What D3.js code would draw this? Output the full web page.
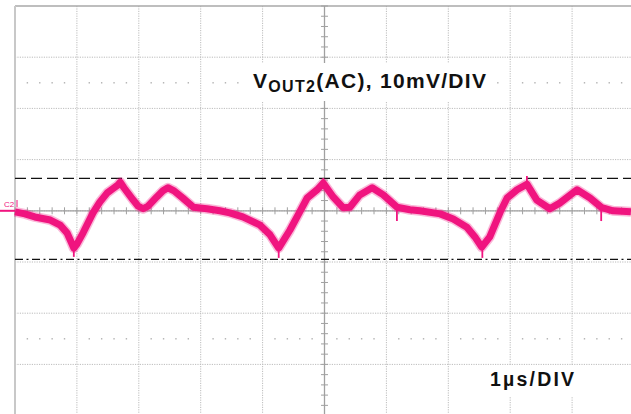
<!DOCTYPE html>
<html>
<head>
<meta charset="utf-8">
<script src="https://cdn.jsdelivr.net/npm/d3@7"></script>
<style>
  body { margin: 0; background: #fff; }
  text { font-family: "Liberation Sans", Arial, sans-serif; }
</style>
</head>
<body>
<div id="scope"></div>
<script>
// time in µs (1 µs/DIV), voltage in mV (10 mV/DIV)
const timeUs = [0.00, 0.16, 0.32, 0.57, 0.73, 0.84, 0.90, 0.95, 1.00, 1.10, 1.26, 1.37, 1.49, 1.58, 1.66, 1.70,
  1.76, 1.91, 1.99, 2.07, 2.15, 2.29, 2.39, 2.47, 2.57, 2.71, 2.88, 3.10, 3.31,
  3.47, 3.68, 3.96, 4.12, 4.26, 4.44, 4.60, 4.72, 4.88, 4.98, 5.14, 5.30, 5.41, 5.57, 5.77, 5.95, 6.17, 6.38, 6.54,
  6.87, 7.08, 7.30, 7.43, 7.54, 7.67, 7.84, 7.95, 8.11, 8.27, 8.43, 8.64, 8.80, 9.08, 9.29, 9.48, 9.66, 9.95];
const voutMv = [-0.2, -0.6, -1.2, -1.8, -2.8, -4.3, -5.9, -7.3, -6.5, -4.3, -0.4, 1.7, 3.5, 4.3, 5.0, 5.6,
  4.5, 2.1, 0.9, 0.4, 0.9, 2.7, 3.9, 4.5, 3.9, 2.5, 0.7, 0.4, 0.0,
  -0.4, -1.2, -2.8, -4.7, -7.3, -3.8, -0.2, 2.5, 4.1, 5.4, 2.7, 0.6, 0.7, 3.1, 4.5, 3.1, 0.7, 0.2, 0.0,
  -0.6, -1.6, -3.2, -5.1, -7.1, -5.1, -0.2, 2.5, 4.1, 5.2, 2.1, 0.4, 1.5, 4.1, 2.5, 0.6, 0.0, -0.2];

// short switching spikes: time, from, to (mV)
const spikeUs = [0.95, 1.70, 4.26, 4.98, 6.17, 7.55, 8.27, 9.47];
const spikeFrom = [-7.0, 5.0, -7.0, 5.0, 0.5, -7.0, 5.0, 0.5];
const spikeTo = [-9.0, 6.2, -9.2, 6.4, -2.0, -9.2, 6.8, -2.0];

// cursors
const cursorHiMv = 6.35;
const cursorLoMv = -9.5;

const xDivs = d3.range(0, 11);
const yDivs = d3.range(-40, 41, 10);
const xMinor = d3.range(0, 10.01, 0.2);
const yMinor = d3.range(-40, 40.01, 2);

const labelVout = ["V", "OUT2", "(AC), 10mV/DIV"];
const labelTime = "1\u00b5s/DIV";

const width = 631, height = 414;

const svg = d3.select("#scope").append("svg")
  .attr("width", width)
  .attr("height", height);

const x = d3.scaleLinear().domain([0, 10]).range([15, 634]);
const y = d3.scaleLinear().domain([-40, 40]).range([415.6, 6]);

const grid = svg.append("g");

// dotted division grid
grid.selectAll(".vgrid")
  .data(xDivs.slice(1))
  .enter().append("line")
  .attr("x1", d => x(d)).attr("x2", d => x(d))
  .attr("y1", y(40)).attr("y2", y(-40))
  .style("stroke", "#bcbcbc")
  .style("stroke-width", 1)
  .style("stroke-dasharray", "1.2,1.2");

grid.selectAll(".hgrid")
  .data(yDivs.slice(1, -1))
  .enter().append("line")
  .attr("x1", x(0)).attr("x2", width)
  .attr("y1", d => y(d)).attr("y2", d => y(d))
  .style("stroke", "#bcbcbc")
  .style("stroke-width", 1)
  .style("stroke-dasharray", "1.2,1.2");

// sparse dot rows
[25, -25].forEach(v => {
  grid.selectAll(null)
    .data(xMinor.filter(t => Math.abs(t - Math.round(t)) > 0.01))
    .enter().append("rect")
    .attr("x", d => x(d) - 0.7).attr("y", y(v) - 0.7)
    .attr("width", 1.4).attr("height", 1.4)
    .style("fill", "#b0b0b0");
});

// frame
grid.append("line")
  .attr("x1", x(0)).attr("x2", width)
  .attr("y1", y(40)).attr("y2", y(40))
  .style("stroke", "#a8a8a8").style("stroke-width", 1.5);
grid.append("line")
  .attr("x1", x(0)).attr("x2", x(0))
  .attr("y1", y(40)).attr("y2", height)
  .style("stroke", "#c8c8c8").style("stroke-width", 2);

// center axes with minor ticks
grid.append("line")
  .attr("x1", x(0)).attr("x2", width)
  .attr("y1", y(0)).attr("y2", y(0))
  .style("stroke", "#a0a0a0").style("stroke-width", 1.3);
grid.append("line")
  .attr("x1", x(5)).attr("x2", x(5))
  .attr("y1", y(40)).attr("y2", height)
  .style("stroke", "#a0a0a0").style("stroke-width", 1.3);

grid.selectAll(".xtick")
  .data(xMinor)
  .enter().append("line")
  .attr("x1", d => x(d)).attr("x2", d => x(d))
  .attr("y1", y(0) - 3.5).attr("y2", y(0) + 3.5)
  .style("stroke", "#a0a0a0").style("stroke-width", 1);

grid.selectAll(".ytick")
  .data(yMinor)
  .enter().append("line")
  .attr("x1", x(5) - 3.5).attr("x2", x(5) + 3.5)
  .attr("y1", d => y(d)).attr("y2", d => y(d))
  .style("stroke", "#a0a0a0").style("stroke-width", 1);

// label boxes
svg.append("rect").attr("x", 243).attr("y", 63).attr("width", 252).attr("height", 38).style("fill", "#fff");
svg.append("rect").attr("x", 487).attr("y", 366).attr("width", 121).attr("height", 31).style("fill", "#fff");

// cursors
svg.append("line")
  .attr("x1", x(0)).attr("x2", width)
  .attr("y1", y(cursorHiMv)).attr("y2", y(cursorHiMv))
  .style("stroke", "#111").style("stroke-width", 1.3)
  .style("stroke-dasharray", "11,5");
svg.append("line")
  .attr("x1", x(0)).attr("x2", width)
  .attr("y1", y(cursorLoMv)).attr("y2", y(cursorLoMv))
  .style("stroke", "#111").style("stroke-width", 1.3)
  .style("stroke-dasharray", "8,3.5,2,3.5");

// trace
const trace = timeUs.map((t, i) => [t, voutMv[i]]);
const line = d3.line()
  .x(d => x(d[0]))
  .y(d => y(d[1]));

const pink = "#f0147f";

svg.append("path")
  .datum(trace)
  .attr("d", line)
  .style("fill", "none")
  .style("stroke", pink)
  .style("stroke-opacity", 0.3)
  .style("stroke-width", 10)
  .style("stroke-linejoin", "round");
svg.append("path")
  .datum(trace)
  .attr("d", line)
  .style("fill", "none")
  .style("stroke", pink)
  .style("stroke-width", 7)
  .style("stroke-linejoin", "round");

svg.selectAll(".spike")
  .data(spikeUs)
  .enter().append("line")
  .attr("x1", d => x(d)).attr("x2", d => x(d))
  .attr("y1", (d, i) => y(spikeFrom[i]))
  .attr("y2", (d, i) => y(spikeTo[i]))
  .style("stroke", pink).style("stroke-width", 1.8);

// channel marker
svg.append("text")
  .attr("x", 4).attr("y", 207)
  .style("font-size", "8px")
  .style("fill", pink)
  .text("C2");
svg.append("line")
  .attr("x1", 0).attr("x2", x(0))
  .attr("y1", y(0)).attr("y2", y(0))
  .style("stroke", pink).style("stroke-width", 2);
svg.append("line")
  .attr("x1", 17).attr("x2", 17)
  .attr("y1", 200).attr("y2", 207)
  .style("stroke", pink).style("stroke-width", 1);

// labels
const t1 = svg.append("text")
  .attr("x", 253).attr("y", 88)
  .style("font-size", "21px")
  .style("font-weight", "bold")
  .style("letter-spacing", "1.3px")
  .style("fill", "#111");
t1.append("tspan").text(labelVout[0]);
t1.append("tspan").attr("dy", 4).style("font-size", "16px").text(labelVout[1]);
t1.append("tspan").attr("dy", -4).text(labelVout[2]);

svg.append("text")
  .attr("x", 490).attr("y", 386)
  .style("font-size", "19.5px")
  .style("font-weight", "bold")
  .style("letter-spacing", "2.2px")
  .style("fill", "#111")
  .text(labelTime);
</script>
</body>
</html>
